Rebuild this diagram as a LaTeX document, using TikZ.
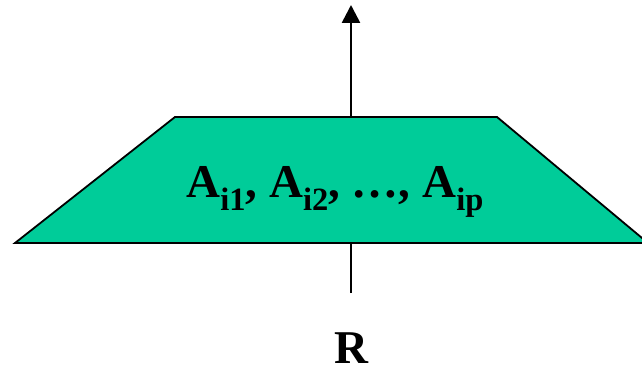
\documentclass[tikz,border=0pt]{standalone}
\usepackage{fontspec}
\setmainfont{Liberation Serif}
\usepackage{tikz}
\usetikzlibrary{arrows.meta,positioning}
\definecolor{relGreen}{RGB}{0,204,153}
\newcommand{\attsub}[1]{\raisebox{-0.27em}{\fontsize{32.5}{34}\selectfont #1}}

\begin{document}
\begin{tikzpicture}[x=1pt,y=1pt,
    bigtxt/.style={font=\fontsize{47}{50}\selectfont\bfseries,inner sep=0pt}]
        \useasboundingbox (0,0) rectangle (642,367);
        \clip (0,0) rectangle (642,367);
        % Relacao e projecao
        \node[bigtxt,anchor=base] (rel) at (351,4) {R};
        \coordinate (inp) at (351,74);
        \coordinate (out) at (351,362);
        \draw[line width=2.6pt,-{Triangle[width=18pt,length=18pt]}] (inp) -- (out);
        % Trapezio
        \draw[fill=relGreen,line width=1.8pt,line join=miter]
          (15,124) -- (175,250) -- (497,250) -- (648,124) -- cycle;
        \node[bigtxt,anchor=base] (attrs) at (335,169)
          {A\attsub{i1}, A\attsub{i2}, \dots, A\attsub{ip}};
      \end{tikzpicture}
\end{document}
